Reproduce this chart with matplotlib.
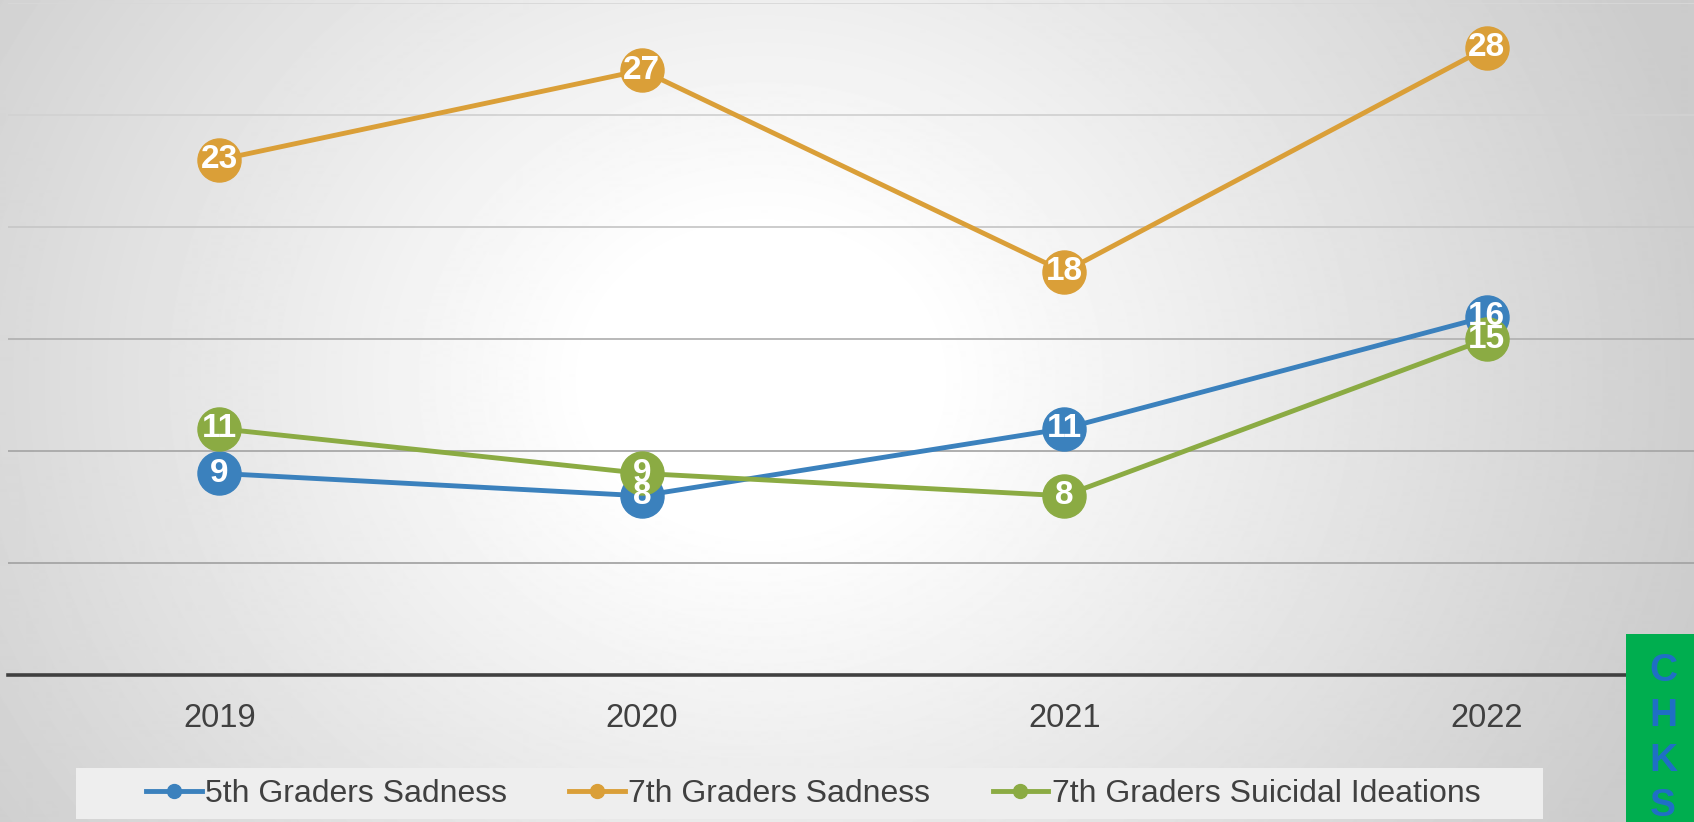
import numpy as np
import matplotlib.pyplot as plt
from matplotlib.lines import Line2D
from matplotlib.patches import Rectangle

plt.rcParams['font.family'] = ['Liberation Sans', 'DejaVu Sans']

# data
years = ['2019', '2020', '2021', '2022']
sad_5th = [9, 8, 11, 16]
sad_7th = [23, 27, 18, 28]
suicidal_7th = [11, 9, 8, 15]
series_names = ['5th Graders Sadness', '7th Graders Sadness', '7th Graders Suicidal Ideations']
colors = ['#3B81BD', '#DA9F38', '#8BAB43']

W, H = 1694, 822
fig = plt.figure(figsize=(W / 100, H / 100), dpi=100)

# radial gradient background
bg = fig.add_axes([0, 0, 1, 1], zorder=-10)
yy, xx = np.mgrid[0:H, 0:W]
r = np.hypot(xx - 760, (yy - 380) * 1.15)
shade = 1 - 0.2 * np.clip((r - 170) / 800, 0, 1)
bg.imshow(shade, cmap='gray', vmin=0, vmax=1, aspect='auto', extent=[0, 1, 0, 1])
bg.set_axis_off()

ax = fig.add_axes([8 / W, 147 / H, 1690 / W, 672 / H])
ax.patch.set_alpha(0)
x = np.arange(len(years))

for vals, c in zip([sad_5th, sad_7th, suicidal_7th], colors):
    ax.plot(x, vals, color=c, lw=3.5, marker='o', ms=31, mec=c, mfc=c,
            clip_on=False, zorder=3)
# data labels sit on top of all markers
for vals in [sad_5th, sad_7th, suicidal_7th]:
    for xi, v in zip(x, vals):
        ax.text(xi, v, str(v), ha='center', va='center', color='white',
                fontsize=24, fontweight='bold', zorder=5)

ax.set_xlim(-0.5, 3.5)
ax.set_ylim(0, 30)
ax.set_yticks(range(0, 31, 5))
ax.set_xticks(x)
ax.set_xticklabels(years, fontsize=23.5, color='#404040')
ax.tick_params(axis='x', length=0, pad=20)
ax.tick_params(axis='y', length=0, labelleft=False)
ax.grid(axis='y', lw=1.3)
grid_colors = ['#000000', '#A5A5A5', '#A8A8A8', '#B3B3B3', '#C8C8C8', '#D2D2D2', '#D8D8D8']
for gl, gc in zip(ax.get_ygridlines(), grid_colors):
    gl.set_color(gc)
ax.set_axisbelow(True)
for s in ['top', 'right', 'left']:
    ax.spines[s].set_visible(False)
ax.spines['bottom'].set_color('#404040')
ax.spines['bottom'].set_linewidth(2.6)

# legend box
fig.patches.append(Rectangle((76 / W, 3 / H), 1467 / W, 51 / H, transform=fig.transFigure,
                             facecolor='#EEEEEE', edgecolor='none', zorder=1))
handles = [Line2D([], [], color=c, lw=3.5, marker='o', ms=10) for c in colors]
fig.legend(handles, series_names, loc='center', bbox_to_anchor=(813 / W, 28 / H),
           ncol=3, frameon=False, fontsize=23, labelcolor='#404040',
           handlelength=1.75, handletextpad=0.1, columnspacing=1.95)

# CHKS tag
fig.patches.append(Rectangle((1626 / W, 0), 68 / W, 188 / H, transform=fig.transFigure,
                             facecolor='#00AE4F', edgecolor='none', zorder=10))
for i, ch in enumerate('CHKS'):
    fig.text(1663 / W, (822 - 671 - 45 * i) / H, ch, ha='center', va='center',
             color='#1F6FC5', fontsize=28, fontweight='bold', zorder=11)

fig.savefig('out.png', dpi=100)
